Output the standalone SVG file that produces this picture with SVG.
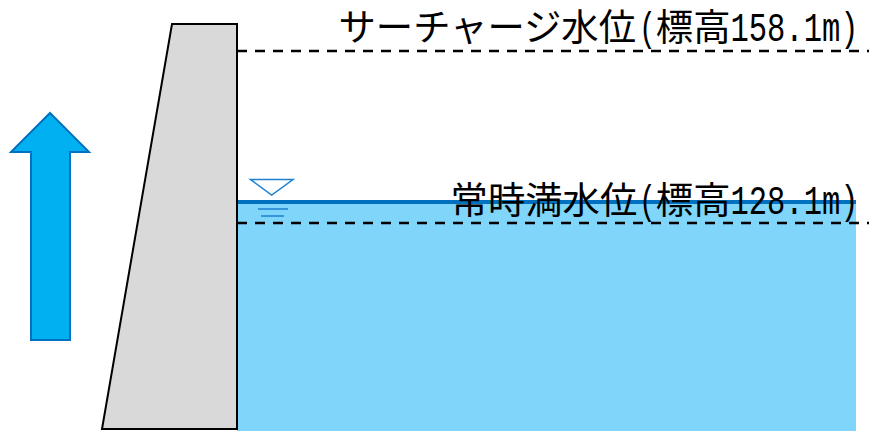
<svg xmlns="http://www.w3.org/2000/svg" width="869" height="431" viewBox="0 0 869 431">
<style>
.t{font-family:"Noto Sans CJK JP","Liberation Sans",sans-serif;font-size:37.33px;fill:#000}
.h{font-family:"Liberation Mono",monospace;font-size:40px}
.d{stroke:#000;stroke-width:2.400;stroke-dasharray:10 8;fill:none}
.w{stroke:#1f80d0;fill:none}
</style>
<rect width="869" height="431" fill="#fff"/>
<g id="water"><rect x="237" y="201" width="619" height="230" fill="#7fd5fa"/><rect x="237" y="200" width="619" height="4" fill="#0070c0"/></g>
<g id="dam"><polygon points="172,24 237,24 237,429 102,429" fill="#d9d9d9" stroke="#000" stroke-width="2"/></g>
<g id="arrow"><polygon points="50,113 89,152 70,152 70,340 31,340 31,152 11,152" fill="#00b0f0" stroke="#0070c0" stroke-width="2"/></g>
<g id="level-mark"><polygon class="w" stroke-width="1.500" points="250.500,179.500 293,179.500 271.700,195"/><path class="w" stroke-width="1.500" d="M258 209H288M261 216H284"/></g>
<g id="connectors"><path class="d" d="M237 51H869"/><path class="d" d="M237 223H869"/></g>
<g id="label-surcharge"><text class="t" y="40.500"><tspan x="338.500">サーチャージ水位</tspan><tspan class="h" x="639" textLength="17" lengthAdjust="spacingAndGlyphs">(</tspan><tspan x="655.800">標高</tspan><tspan class="h" x="730.500" textLength="128" lengthAdjust="spacingAndGlyphs">158.1m)</tspan></text></g>
<g id="label-normal"><text class="t" y="213.500"><tspan x="450.600">常時満水位</tspan><tspan class="h" x="639" textLength="17" lengthAdjust="spacingAndGlyphs">(</tspan><tspan x="655.800">標高</tspan><tspan class="h" x="730.500" textLength="128" lengthAdjust="spacingAndGlyphs">128.1m)</tspan></text></g>
</svg>
